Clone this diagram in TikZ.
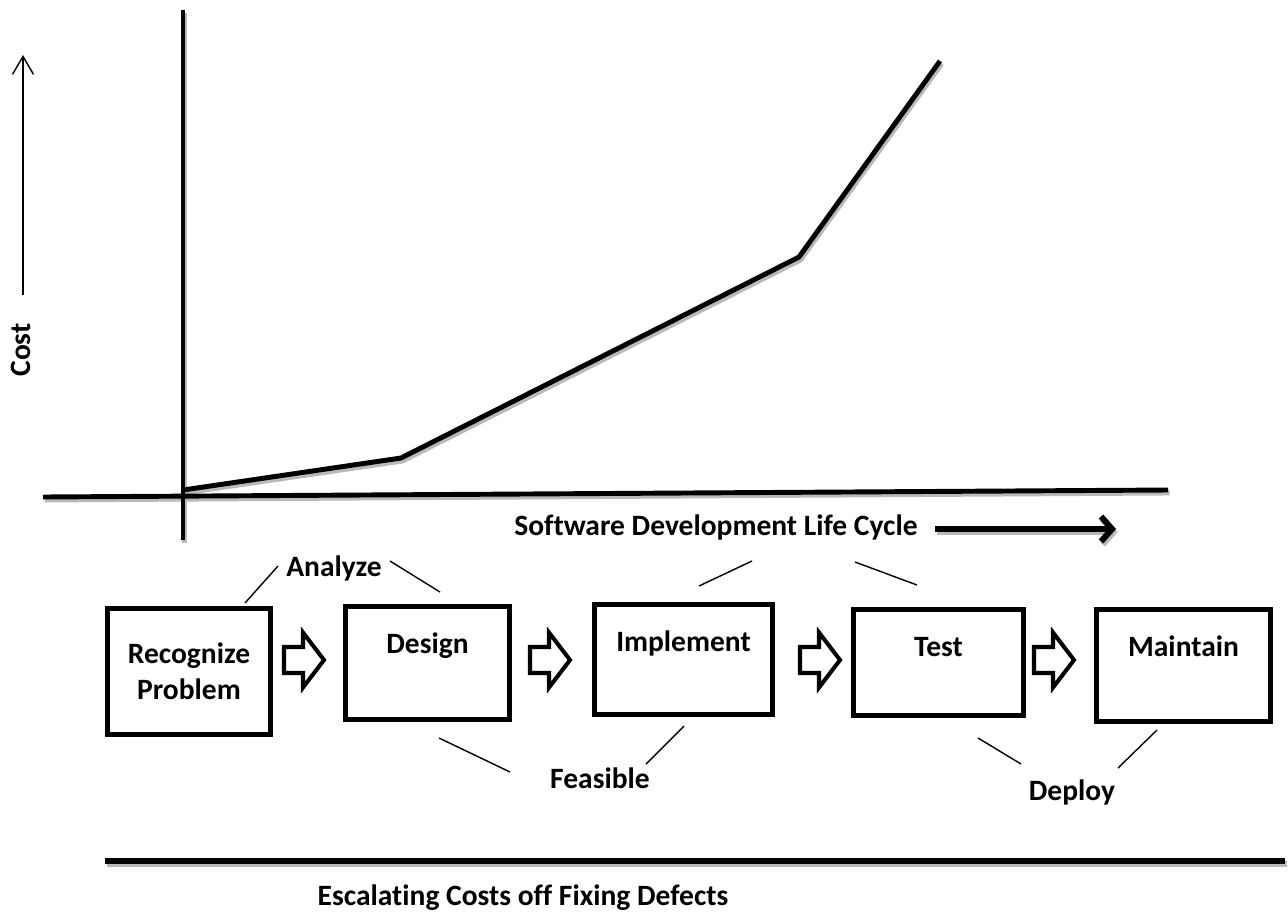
\documentclass[tikz,border=0pt]{standalone}
\usepackage{fontspec}
\setmainfont[Ligatures={NoCommon}]{Carlito}
\usetikzlibrary{positioning,arrows.meta,calc}

\begin{document}
\begin{tikzpicture}[
    x=0.02cm, y=-0.02cm,
    every node/.style={font=\bfseries\fontsize{16.8}{20.5}\selectfont},
    shade/.style={draw=gray!55},
    axis/.style={line width=2.8pt},
    costline/.style={line width=2.8pt, line join=round},
    sdlcarrow/.style={line width=3.4pt, -{Straight Barb[length=0.22cm, width=0.5cm]}},
    stagebox/.style={rectangle, draw, line width=2.8pt, inner sep=0pt},
    stagetext/.style={anchor=base, inner sep=0pt},
    note/.style={anchor=base, inner sep=0pt},
    tick/.style={line width=0.8pt},
    blockarrow/.style={draw, line width=2.3pt, line join=miter}
]
  \useasboundingbox (0,0) rectangle (1288,920);

  % axes and cost curve
  \coordinate (ytop) at (183,10);
  \coordinate (ybot) at (183,540);
  \coordinate (xleft) at (43,497);
  \coordinate (xright) at (1168,490);
  \coordinate (origin) at (183,490);
  \coordinate (knee1) at (401,458);
  \coordinate (knee2) at (799,257);
  \coordinate (peak) at (940,61);
  \coordinate (sdlcfoot) at (935,529);
  \coordinate (sdlchead) at (1116,529);
  \coordinate (baseleft) at (105,861);
  \coordinate (baseright) at (1285,861);

  % grey shadows under the heavy lines
  \begin{scope}[transform canvas={shift={(0.9pt,-1.7pt)}}]
    \draw[axis, shade] (ytop) -- (ybot);
    \draw[axis, shade] (xleft) -- (xright);
    \draw[costline, shade] (origin) -- (knee1) -- (knee2) -- (peak);
    \draw[sdlcarrow, shade] (sdlcfoot) -- (sdlchead);
    \draw[line width=3.2pt, shade] (baseleft) -- (baseright);
  \end{scope}

  \draw[axis] (ytop) -- (ybot);
  \draw[axis] (xleft) -- (xright);
  \draw[costline] (origin) -- (knee1) -- (knee2) -- (peak);

  \coordinate (costfoot) at (23,295);
  \coordinate (costhead) at (23,55);
  \draw[line width=0.8pt, -{Straight Barb[length=0.36cm, width=0.42cm]}] (costfoot) -- (costhead);
  \node[rotate=90] (cost) at (21,350) {Cost};

  \node[note] (sdlc) at (716,535) {Software Development Life Cycle};
  \draw[sdlcarrow] (sdlcfoot) -- (sdlchead);

  % stages
  \node[stagebox, minimum width=3.26cm, minimum height=2.52cm, align=center] (recognize) at (189,671.5) {Recognize\\Problem};
  \node[stagebox, minimum width=3.28cm, minimum height=2.26cm] (design) at (427.5,663) {};
  \node[stagebox, minimum width=3.56cm, minimum height=2.2cm] (implement) at (683.5,659.5) {};
  \node[stagebox, minimum width=3.4cm, minimum height=2.12cm] (test) at (938.5,662.5) {};
  \node[stagebox, minimum width=3.48cm, minimum height=2.24cm] (maintain) at (1183.5,665.5) {};
  \foreach \stage/\word in {design/Design, implement/Implement, test/Test, maintain/Maintain}
    \node[stagetext] (\stage text) at ($(\stage.north)+(0,49.5)$) {\word};

  \foreach \x in {305,551,821,1055}
    \draw[blockarrow] ({\x-21},647) -- ({\x-2},647) -- ({\x-2},632.5) -- ({\x+19},660)
      -- ({\x-2},687.5) -- ({\x-2},673) -- ({\x-21},673) -- cycle;

  % phase notes
  \node[note] (analyze) at (334,576) {Analyze};
  \node[note] (feasible) at (600,788) {Feasible};
  \node[note] (deploy) at (1072,800) {Deploy};
  \node[note] (escalate) at (523,905) {Escalating Costs off Fixing Defects};

  \coordinate (a1) at (245,603); \coordinate (a2) at (278,566);
  \coordinate (a3) at (390,561); \coordinate (a4) at (440,592);
  \coordinate (f1) at (439,738); \coordinate (f2) at (510,772);
  \coordinate (f3) at (684,726); \coordinate (f4) at (646,764);
  \coordinate (s1) at (699,586); \coordinate (s2) at (752,561);
  \coordinate (s3) at (855,562); \coordinate (s4) at (917,585);
  \coordinate (d1) at (978,738); \coordinate (d2) at (1021,764);
  \coordinate (d3) at (1157,730); \coordinate (d4) at (1118,768);
  \draw[tick] (a1) -- (a2);
  \draw[tick] (a3) -- (a4);
  \draw[tick] (f1) -- (f2);
  \draw[tick] (f3) -- (f4);
  \draw[tick] (s1) -- (s2);
  \draw[tick] (s3) -- (s4);
  \draw[tick] (d1) -- (d2);
  \draw[tick] (d3) -- (d4);

  \draw[line width=3.2pt] (baseleft) -- (baseright);
\end{tikzpicture}
\end{document}
